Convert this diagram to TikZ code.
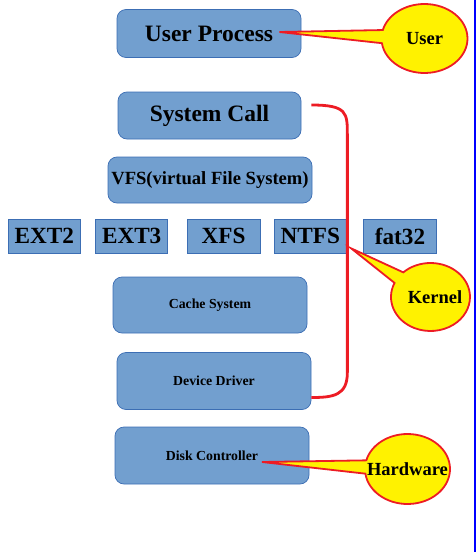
\documentclass[tikz,border=0pt]{standalone}
\usepackage{fontspec}
\setmainfont{Liberation Serif}
\usetikzlibrary{shapes.callouts,calc}
\definecolor{boxblue}{RGB}{114,159,207}
\definecolor{boxedge}{RGB}{60,110,180}
\definecolor{calloutred}{RGB}{237,28,36}
\definecolor{calloutyellow}{RGB}{255,242,0}
\definecolor{edgeblue}{RGB}{0,0,255}
\tikzset{
  rbox/.style={draw=boxedge, fill=boxblue, line width=0.7pt, rounded corners=9pt,
    inner sep=0pt, font=\bfseries},
  fsbox/.style={draw=boxedge, fill=boxblue, line width=0.7pt,
    minimum width=72pt, minimum height=34pt, inner sep=0pt, font=\fontsize{23.2}{25}\selectfont\bfseries},
  bubble/.style={ellipse callout, draw=calloutred, fill=calloutyellow, line width=1.8pt,
    inner sep=0pt, callout pointer arc=22, font=\fontsize{18.5}{20}\selectfont\bfseries},
  bracketline/.style={draw=calloutred, line width=2.8pt},
}
\begin{document}
\begin{tikzpicture}[x=1pt,y=-1pt]
\useasboundingbox (0,0) rectangle (476,552);
% main stack
\node[rbox, minimum width=184pt, minimum height=48pt, font=\fontsize{23.5}{25}\selectfont\bfseries] (up) at (209,33.5) {User Process};
\node[rbox, minimum width=183pt, minimum height=47pt, font=\fontsize{23.5}{25}\selectfont\bfseries] (sc) at (209.5,115.5) {System Call};
\node[rbox, minimum width=204pt, minimum height=46pt, font=\fontsize{18.6}{20}\selectfont\bfseries] (vfs) at (210,180) {VFS(virtual File System)};
% file systems
\node[fsbox] (ext2) at (44.3,236) {EXT2};
\node[fsbox] (ext3) at (131.7,236) {EXT3};
\node[fsbox, minimum width=73pt] (xfs) at (223.5,236) {XFS};
\node[fsbox] (ntfs) at (310.3,236) {NTFS};
\node[fsbox, minimum width=73pt] (fat) at (400,236) {fat32};
% lower layers
\node[rbox, minimum width=194pt, minimum height=56pt, font=\fontsize{13.8}{15}\selectfont\bfseries] (cache) at (210,305) {Cache System};
\node[rbox, minimum width=194pt, minimum height=57pt, font=\fontsize{13.8}{15}\selectfont\bfseries] (dd) at (214,381) {Device Driver};
\node[rbox, minimum width=194pt, minimum height=57pt, font=\fontsize{13.8}{15}\selectfont\bfseries] (dc) at (212,455.5) {Disk Controller};
% kernel bracket
\coordinate (ktop) at ($(sc.east)+(10,-10.5)$);
\coordinate (kbot) at ($(dd.east)+(0,16.5)$);
\draw[bracketline] (ktop) .. controls ($(ktop)+(36,0)$) and ($(ktop)+(36,8)$) .. ($(ktop)+(36,30)$)
  -- ($(kbot)+(36,-25)$) .. controls ($(kbot)+(36,-2)$) and ($(kbot)+(22,0)$) .. (kbot);
% callouts
\node[bubble, minimum width=86pt, minimum height=69pt,
  callout absolute pointer={($(up.east)+(-22,-1.5)$)}] (user) at (424.5,38.5) {\makebox[0pt]{User}};
\node[bubble, minimum width=79pt, minimum height=68pt,
  callout absolute pointer={($(ntfs.south east)+(4.5,-5)$)}] (kernel) at (430.5,297) {\makebox[0pt]{\hspace*{9pt}Kernel}};
\node[bubble, minimum width=85pt, minimum height=70pt,
  callout absolute pointer={($(dc.center)+(50,6.5)$)}] (hw) at (407.5,469) {\makebox[0pt]{Hardware}};
% right border line
\coordinate (bt) at (474.8,0);
\coordinate (bb) at (474.8,552);
\draw[edgeblue, line width=1.6pt] (bt) -- (bb);
\end{tikzpicture}
\end{document}
